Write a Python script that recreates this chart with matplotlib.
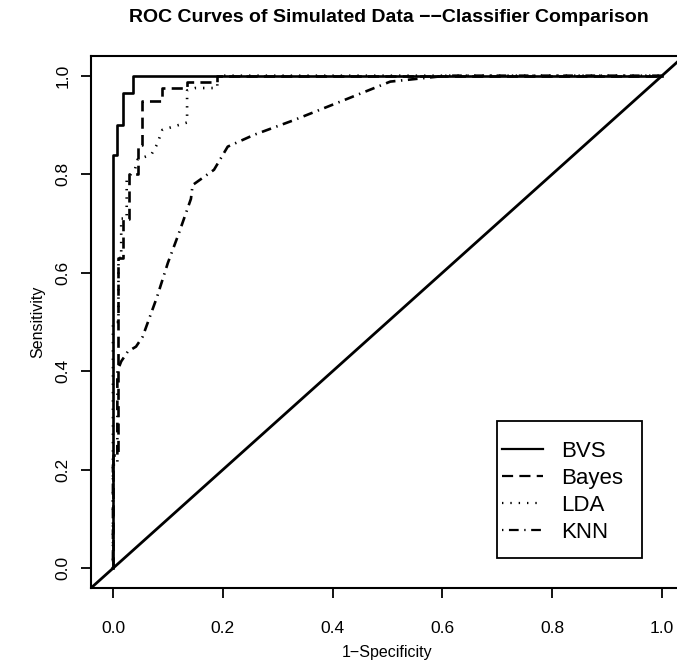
import matplotlib
matplotlib.use("Agg")
import matplotlib.pyplot as plt
from matplotlib.patches import Rectangle

# === Data ===
bvs_fpr = [0, 0, 0.0065, 0.0065, 0.0175, 0.0175, 0.037, 0.037, 1.0]
bvs_tpr = [0, 0.839, 0.839, 0.90, 0.90, 0.965, 0.965, 1.0, 1.0]

bayes_fpr = [0, 0, 0.01, 0.01, 0.018, 0.018, 0.03, 0.03, 0.045, 0.045,
             0.053, 0.053, 0.09, 0.09, 0.135, 0.135, 0.19, 0.19, 1.0]
bayes_tpr = [0, 0.23, 0.23, 0.63, 0.63, 0.71, 0.71, 0.80, 0.80, 0.86,
             0.86, 0.948, 0.948, 0.975, 0.975, 0.988, 0.988, 1.0, 1.0]

lda_fpr = [0, 0, 0.01, 0.01, 0.015, 0.015, 0.025, 0.025, 0.04, 0.045,
           0.07, 0.08, 0.09, 0.135, 0.135, 0.15, 0.19, 0.19, 1.0]
lda_tpr = [0, 0.5, 0.5, 0.63, 0.63, 0.71, 0.71, 0.79, 0.81, 0.83,
           0.84, 0.86, 0.89, 0.905, 0.97, 0.975, 0.975, 1.0, 1.0]

knn_fpr = [0, 0, 0.008, 0.008, 0.015, 0.027, 0.042, 0.054, 0.08, 0.10,
           0.12, 0.142, 0.145, 0.184, 0.209, 0.257, 0.33, 0.42, 0.505, 0.608, 1.0]
knn_tpr = [0, 0.21, 0.21, 0.40, 0.42, 0.44, 0.45, 0.47, 0.55, 0.62,
           0.68, 0.75, 0.778, 0.809, 0.856, 0.88, 0.91, 0.95, 0.988, 1.0, 1.0]

labels = ["BVS", "Bayes", "LDA", "KNN"]
ticks = [0.0, 0.2, 0.4, 0.6, 0.8, 1.0]

plt.rcParams["font.family"] = ["Liberation Sans", "DejaVu Sans"]
plt.rcParams["lines.scale_dashes"] = False

fig = plt.figure(figsize=(6.77, 6.68), dpi=100)
ax = fig.add_axes([91 / 677, 1 - 588 / 668, 593 / 677, 532 / 668])

lw = 1.9
ax.plot(bvs_fpr, bvs_tpr, color="black", lw=lw, ls="-", label=labels[0])
ax.plot(bayes_fpr, bayes_tpr, color="black", lw=lw, ls=(0, (8, 4.5)), label=labels[1])
ax.plot(lda_fpr, lda_tpr, color="black", lw=lw, ls=(0, (1.0, 5)), label=labels[2])
ax.plot(knn_fpr, knn_tpr, color="black", lw=lw, ls=(0, (1.0, 4, 7, 4)), label=labels[3])
ax.axline((0, 0), slope=1, color="black", lw=2.0)

ax.set_xlim(-0.04, 1.04)
ax.set_ylim(-0.04, 1.04)
ax.set_xticks(ticks)
ax.set_yticks(ticks)
ax.set_xticklabels([f"{t:.1f}" for t in ticks], fontsize=12.5)
ax.set_yticklabels([f"{t:.1f}" for t in ticks], fontsize=12.5, rotation=90, va="center")
ax.tick_params(axis="both", direction="out", length=7, width=1.3)
ax.tick_params(axis="x", pad=17)
ax.tick_params(axis="y", pad=8)
for s in ax.spines.values():
    s.set_linewidth(1.5)

ax.set_xlabel("1\u2212Specificity", fontsize=11.5, labelpad=6)
ax.set_ylabel("Sensitivity", fontsize=11.5, labelpad=7)
fig.text(0.575, 1 - 18 / 668, "ROC Curves of Simulated Data \u2212\u2212Classifier Comparison",
         fontsize=14, fontweight="bold", ha="center", va="center")

# legend box drawn by hand, R style
ax.add_patch(Rectangle((0.685, 0.056), 0.244, 0.258, transform=ax.transAxes,
                       facecolor="white", edgecolor="black", lw=1.3, zorder=4))
leg = ax.legend(loc="upper left", bbox_to_anchor=(0.693, 0.276), borderaxespad=0,
                fontsize=16, handlelength=1.85, handletextpad=0.8, labelspacing=0.27,
                borderpad=0, frameon=False)
leg.set_zorder(5)
for h in leg.get_lines():
    h.set_linewidth(1.6)

fig.savefig("out.png", dpi=100)
